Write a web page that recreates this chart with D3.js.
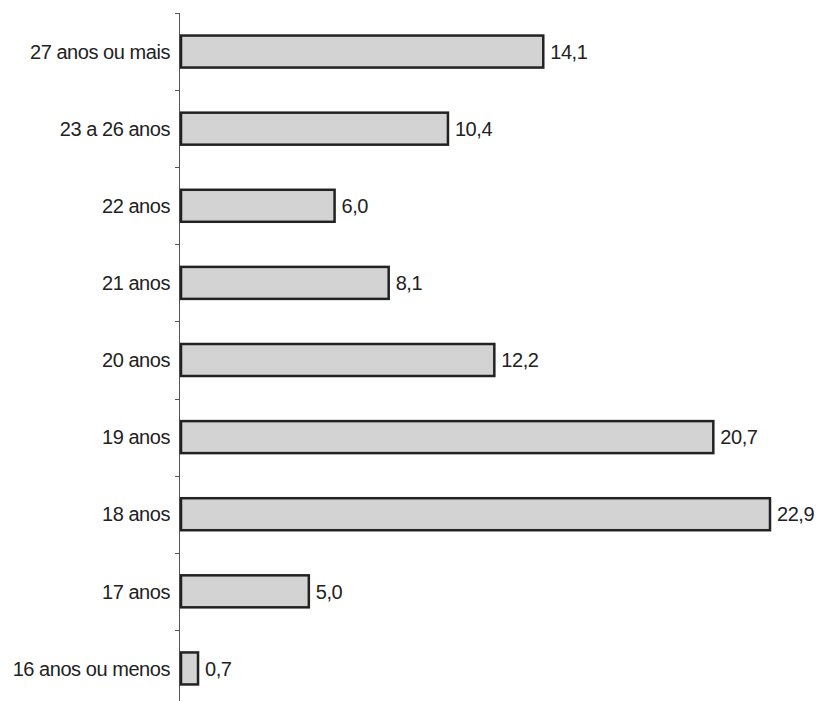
<!DOCTYPE html>
<html><head><meta charset="utf-8">
<script src="https://cdn.jsdelivr.net/npm/d3@7"></script>
<style>body{margin:0;background:#fff}svg{display:block}text{font-family:"Liberation Sans",Arial,sans-serif}</style>
</head><body>
<svg id="c" width="819" height="701"></svg>
<script>
const categories = ["27 anos ou mais","23 a 26 anos","22 anos","21 anos","20 anos","19 anos","18 anos","17 anos","16 anos ou menos"];
const values = [14.1,10.4,6.0,8.1,12.2,20.7,22.9,5.0,0.7];
const valueLabels = ["14,1","10,4","6,0","8,1","12,2","20,7","22,9","5,0","0,7"];

const svg = d3.select("#c");
const x0 = 180;
const x = d3.scaleLinear().domain([0,22.9]).range([x0,770]);
const y = d3.scaleBand().domain(categories).range([13,707]).paddingInner(0.585).paddingOuter(0.2925);

// axis line and ticks
const ax = svg.append("g");
ax.append("line").attr("x1",x0-0.5).attr("x2",x0-0.5).attr("y1",13).attr("y2",707).attr("stroke","#555").attr("stroke-width",1);
const step = y.step();
const tickYs = d3.range(categories.length+1).map(i=>13+i*step);
ax.selectAll("line.t").data(tickYs).join("line").attr("class","t")
  .attr("x1",x0-5).attr("x2",x0-0.5).attr("y1",d=>Math.round(d)+0.5).attr("y2",d=>Math.round(d)+0.5)
  .attr("stroke","#555").attr("stroke-width",1);

// bars
svg.append("g").selectAll("rect").data(categories).join("rect")
  .attr("x",x0+1).attr("y",d=>y(d))
  .attr("width",(d,i)=>x(values[i])-x0-1).attr("height",y.bandwidth())
  .attr("fill","#d3d3d3").attr("stroke","#222").attr("stroke-width",2.5);

// category labels
svg.append("g").selectAll("text").data(categories).join("text")
  .attr("x",x0-10).attr("y",d=>y(d)+y.bandwidth()/2).attr("dy","0.36em")
  .attr("text-anchor","end").attr("font-size",20).attr("letter-spacing","-0.45px").attr("fill","#222").text(d=>d);

// value labels
svg.append("g").selectAll("text").data(categories).join("text")
  .attr("x",(d,i)=>x(values[i])+7).attr("y",d=>y(d)+y.bandwidth()/2).attr("dy","0.36em")
  .attr("font-size",20).attr("letter-spacing","-0.45px").attr("fill","#222").text((d,i)=>valueLabels[i]);
</script>
</body></html>
